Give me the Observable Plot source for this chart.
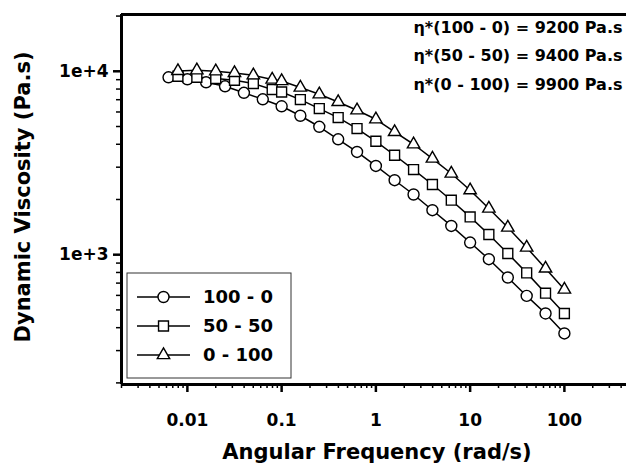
<!DOCTYPE html>
<html>
<head>
<meta charset="utf-8">
<script src="https://cdn.jsdelivr.net/npm/d3@7"></script>
<script src="https://cdn.jsdelivr.net/npm/@observablehq/plot@0.6"></script>
<style>
  html, body { margin: 0; padding: 0; background: #fff; }
  #wrap { position: relative; width: 626px; height: 472px; }
  #legend { position: absolute; left: 0; top: 0; pointer-events: none; }
</style>
</head>
<body>
<div id="wrap"></div>
<script>
// ---- data ----
const seriesNames = ["100 - 0", "50 - 50", "0 - 100"];
const freqCircle = [0.00631,0.01,0.0158,0.0251,0.0398,0.0631,0.1,0.158,0.251,0.398,0.631,1,1.58,2.51,3.98,6.31,10,15.8,25.1,39.8,63.1,100];
const freqOther  = [0.00794,0.0126,0.02,0.0316,0.0501,0.0794,0.1,0.158,0.251,0.398,0.631,1,1.58,2.51,3.98,6.31,10,15.8,25.1,39.8,63.1,100];
const visc100_0 = [9275,9045,8710,8285,7635,7036,6446,5723,4983,4259,3633,3047,2547,2129,1748,1435,1165,945,751,596,478,372];
const visc50_50 = [9392,9275,9124,8934,8570,7948,7711,7010,6259,5594,4872,4153,3484,2912,2413,1982,1607,1288,1015,796,617,478];
const visc0_100 = [10038,10126,10000,9788,9511,9010,8852,8152,7492,6803,6131,5474,4668,4001,3344,2771,2246,1786,1406,1094,841,646];
const symbols = ["circle", "square", "triangle"];
const symbolR = [5.5, 5.6, 4.6];

const xTickValues = [0.01, 0.1, 1, 10, 100];
const xTickLabels = ["0.01", "0.1", "1", "10", "100"];
const yTickValues = [1000, 10000];
const yTickLabels = ["1e+3", "1e+4"];
const xDomain = [0.002, 456];
const yDomain = [196, 20400];
const annotationLines = ["η*(100 - 0) = 9200 Pa.s", "η*(50 - 50) = 9400 Pa.s", "η*(0 - 100) = 9900 Pa.s"];
const xLabel = "Angular Frequency (rad/s)";
const yLabel = "Dynamic Viscosity (Pa.s)";

// ---- build ----
const seriesData = [
  freqCircle.map((f, i) => ({f, v: visc100_0[i]})),
  freqOther.map((f, i) => ({f, v: visc50_50[i]})),
  freqOther.map((f, i) => ({f, v: visc0_100[i]}))
];

function minorTicks(lo, hi) {
  const out = [];
  for (let e = Math.floor(Math.log10(lo)); e <= Math.ceil(Math.log10(hi)); e++) {
    for (let m = 2; m <= 9; m++) {
      const v = m * Math.pow(10, e);
      if (v >= lo && v <= hi) out.push(v);
    }
  }
  return out;
}
const xMinor = minorTicks(xDomain[0], xDomain[1]);
const yMinor = minorTicks(yDomain[0], yDomain[1]);

const font = "DejaVu Sans";
const marks = [];
seriesData.forEach((d) => {
  marks.push(Plot.line(d, {x: "f", y: "v", stroke: "black", strokeWidth: 1.5}));
});
seriesData.forEach((d, i) => {
  marks.push(Plot.dot(d, {x: "f", y: "v", symbol: () => symbols[i], r: symbolR[i], fill: "white", stroke: "black", strokeWidth: 1.4}));
});
marks.push(
  Plot.axisX({ticks: xMinor, tickSize: 4, strokeWidth: 1.5, tickFormat: () => "", label: null}),
  Plot.axisX({ticks: xTickValues, tickSize: 8, strokeWidth: 2.5, tickPadding: 21, fontSize: 17,
    tickFormat: d => xTickLabels[xTickValues.indexOf(d)], label: null}),
  Plot.axisY({ticks: yMinor, tickSize: 5, strokeWidth: 1.5, tickFormat: () => "", label: null}),
  Plot.axisY({ticks: yTickValues, tickSize: 8, strokeWidth: 2.5, tickPadding: 5, fontSize: 17,
    tickFormat: d => yTickLabels[yTickValues.indexOf(d)], label: null}),
  Plot.ruleY([yDomain[1]], {stroke: "black", strokeWidth: 3}),
  Plot.ruleY([yDomain[0]], {stroke: "black", strokeWidth: 3}),
  Plot.ruleX([xDomain[0]], {stroke: "black", strokeWidth: 3}),
  Plot.text([xLabel], {frameAnchor: "bottom", text: d => d, dx: 3, dy: 68, textAnchor: "middle", lineAnchor: "middle", fontSize: 21, fill: "black"})
);
annotationLines.forEach((line, i) => {
  marks.push(Plot.text([line], {frameAnchor: "top-right", text: d => d, dx: -4, dy: 13 + i * 28.5,
    textAnchor: "end", lineAnchor: "middle", fontSize: 16, fill: "black"}));
});

const chart = Plot.plot({
  width: 626,
  height: 472,
  marginLeft: 121,
  marginRight: 0,
  marginTop: 14,
  marginBottom: 88,
  style: {fontFamily: font, fontWeight: "bold", background: "white", color: "black"},
  x: {type: "log", domain: xDomain},
  y: {type: "log", domain: yDomain},
  marks
});
document.getElementById("wrap").appendChild(chart);

// ---- overlay: y label and legend ----
const lg = d3.select("#wrap").append("svg").attr("id", "legend").attr("width", 626).attr("height", 472);
lg.append("text")
  .attr("transform", "translate(22,197) rotate(-90)")
  .attr("text-anchor", "middle").attr("dy", "0.36em")
  .attr("font-family", font).attr("font-weight", "bold").attr("font-size", 21)
  .attr("fill", "black").text(yLabel);

const box = {x: 127, y: 273, w: 164, h: 105};
lg.append("rect").attr("x", box.x).attr("y", box.y).attr("width", box.w).attr("height", box.h)
  .attr("fill", "white").attr("stroke", "#333").attr("stroke-width", 1);
const symMap = {circle: d3.symbolCircle, square: d3.symbolSquare, triangle: d3.symbolTriangle};
seriesNames.forEach((name, i) => {
  const cy = box.y + 24 + i * 29;
  const g = lg.append("g");
  g.append("line").attr("x1", box.x + 10).attr("x2", box.x + 63).attr("y1", cy).attr("y2", cy)
    .attr("stroke", "black").attr("stroke-width", 1.5);
  g.append("path").attr("transform", `translate(${box.x + 36.5},${cy})`)
    .attr("d", d3.symbol(symMap[symbols[i]], symbolR[i] * symbolR[i] * Math.PI)())
    .attr("fill", "white").attr("stroke", "black").attr("stroke-width", 1.4);
  g.append("text").attr("x", box.x + 76).attr("y", cy).attr("dy", "0.36em")
    .attr("font-family", font).attr("font-weight", "bold").attr("font-size", 18)
    .attr("fill", "black").text(name);
});
</script>
</body>
</html>
